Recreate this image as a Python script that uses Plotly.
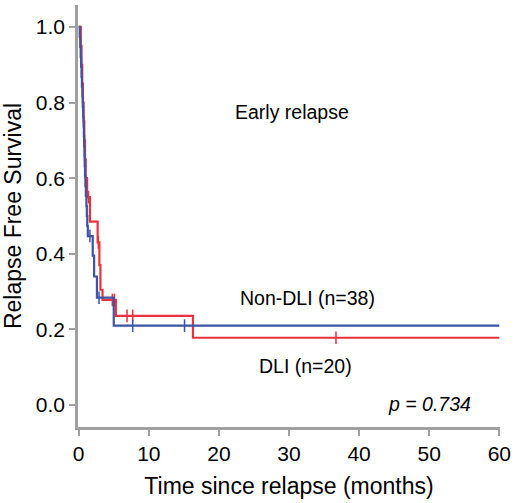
#!/usr/bin/env python3
"""Kaplan-Meier curves: relapse free survival after early relapse, DLI vs non-DLI."""

import plotly.graph_objects as go

BLUE = "#3B54A3"
RED = "#E8333D"
AXIS = "#A0A0A0"
FONT = "Liberation Sans, Arial, sans-serif"

# Non-DLI (n=38): step times (months) and survival after each step
nondli_time = [0, 0.15, 0.22, 0.28, 0.34, 0.40, 0.46, 0.52, 0.58, 0.64, 0.70,
               0.74, 0.78, 0.82, 0.86, 0.90, 0.96, 1.02, 1.10, 1.16, 1.22, 1.30,
               2.0, 2.2, 2.6, 5.0, 60]
nondli_surv = [1.0, 0.974, 0.947, 0.921, 0.895, 0.868, 0.842, 0.816, 0.789, 0.763, 0.737,
               0.711, 0.684, 0.658, 0.632, 0.605, 0.579, 0.553, 0.526, 0.500, 0.474, 0.447,
               0.395, 0.340, 0.284, 0.210, 0.210]
nondli_cens_time = [1.6, 2.9, 7.7, 15.1]
nondli_cens_surv = [0.447, 0.284, 0.210, 0.210]

# DLI (n=20)
dli_time = [0, 0.3, 0.4, 0.5, 0.6, 0.7, 0.8, 0.9, 1.0, 1.2, 1.6, 2.7, 2.95, 3.1, 3.4,
            5.3, 16.3, 60]
dli_surv = [1.0, 0.95, 0.90, 0.85, 0.80, 0.75, 0.70, 0.65, 0.60, 0.55, 0.485, 0.43, 0.37,
            0.305, 0.278, 0.236, 0.178, 0.178]
dli_cens_time = [1.4, 2.8, 4.8, 5.1, 6.9, 7.7, 36.7]
dli_cens_surv = [0.55, 0.43, 0.278, 0.278, 0.236, 0.236, 0.178]

x_ticks = [0, 10, 20, 30, 40, 50, 60]
y_ticks = [0.0, 0.2, 0.4, 0.6, 0.8, 1.0]

fig = go.Figure()
for t, s, ct, cs, col, name in [
    (dli_time, dli_surv, dli_cens_time, dli_cens_surv, RED, "DLI"),
    (nondli_time, nondli_surv, nondli_cens_time, nondli_cens_surv, BLUE, "Non-DLI"),
]:
    fig.add_trace(go.Scatter(x=t, y=s, mode="lines", name=name,
                             line=dict(color=col, width=2.2, shape="hv")))
    fig.add_trace(go.Scatter(x=ct, y=cs, mode="markers", showlegend=False,
                             marker=dict(symbol="line-ns", size=9,
                                         line=dict(color=col, width=1.5))))

labels = [
    ("Early relapse", 30.4, 0.775, False),
    ("Non-DLI (n=38)", 32.7, 0.284, False),
    ("DLI (n=20)", 32.3, 0.103, False),
    ("p = 0.734", 50.1, 0.003, True),
]
for text, x, y, italic in labels:
    fig.add_annotation(x=x, y=y, text=f"<i>{text}</i>" if italic else text,
                       showarrow=False, font=dict(size=19.5, color="black", family=FONT))

fig.update_xaxes(range=[-0.1, 60.1], tickvals=x_ticks, ticks="outside", ticklen=6,
                 tickwidth=2, tickcolor=AXIS, showline=True, linecolor=AXIS, linewidth=2.5,
                 showgrid=False, zeroline=False, tickfont=dict(size=21, color="black"),
                 automargin=False,
                 title=dict(text="Time since relapse (months)", font=dict(size=23),
                            standoff=14))
fig.update_yaxes(range=[-0.058, 1.058], tickvals=y_ticks, tickformat=".1f",
                 ticks="outside", ticklen=6, tickwidth=2, tickcolor=AXIS, showline=True,
                 linecolor=AXIS, linewidth=2.5, showgrid=False, zeroline=False,
                 tickfont=dict(size=21, color="black"), automargin=False,
                 title=dict(text="Relapse Free Survival", font=dict(size=23), standoff=8))
fig.update_layout(width=520, height=503, margin=dict(l=78, r=20, t=5, b=76),
                  plot_bgcolor="white", paper_bgcolor="white", showlegend=False,
                  font=dict(family=FONT, color="black"))

# drop the default page margin so the figure sits at the window corner
fig.write_html("out.html", config={"displayModeBar": False},
               post_script="document.body.style.margin='0px';")
